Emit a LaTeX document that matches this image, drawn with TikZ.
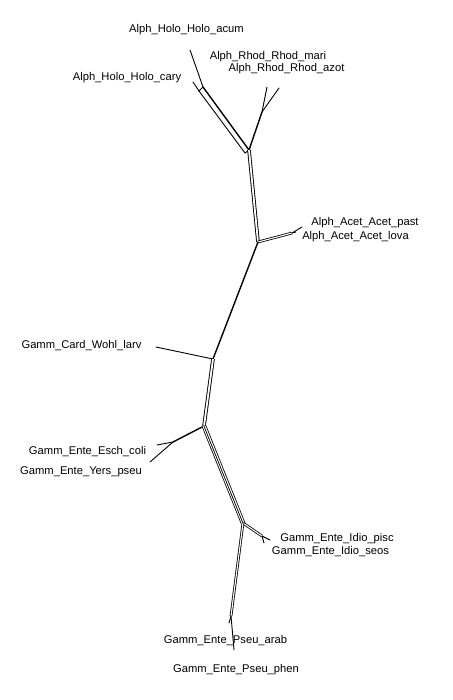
\documentclass[tikz,border=0pt]{standalone}
\usepackage{fontspec}
\setmainfont{Liberation Sans}
\usetikzlibrary{calc}
\begin{document}
\begin{tikzpicture}[x=1pt,y=-1pt,
  edge/.style={line width=0.9pt, line cap=round},
  heavy/.style={line width=1.4pt, line cap=round},
  dbl/.style={double, double distance=1.8pt, line width=0.9pt},
  dblthin/.style={double, double distance=1.1pt, line width=0.8pt},
  lbl/.style={font=\fontsize{11.2}{13}\selectfont, inner sep=0pt, anchor=center}]
\fill[white] (0,0) rectangle (452,700);
\useasboundingbox (0,0) rectangle (452,700);
% junctions and tips
\coordinate (hA) at (190,50);
\coordinate (hC) at (193,82);
\coordinate (h1) at (203,87);
\coordinate (h2) at (199,91);
\coordinate (r0) at (249,150);
\coordinate (r0b) at (245,153);
\coordinate (r1) at (262,112);
\coordinate (rM) at (267,87);
\coordinate (rZ) at (279,88);
\coordinate (a0) at (258,242);
\coordinate (a1) at (292,233);
\coordinate (aP) at (302,227);
\coordinate (aL) at (296,232);
\coordinate (c0) at (213,359);
\coordinate (cW) at (156,347);
\coordinate (e0) at (204,426);
\coordinate (e1) at (173,442);
\coordinate (eE) at (157,445);
\coordinate (eY) at (150,462);
\coordinate (i0) at (243,523);
\coordinate (i1) at (262,536);
\coordinate (iP) at (270,540);
\coordinate (iS) at (264,543);
\coordinate (p1) at (231,616);
\coordinate (pA) at (229,623);
\coordinate (pP) at (234,650);
% edges
\draw[edge] (hA) -- (h1);
\draw[edge] (hC) -- (h2);
\draw[edge] (h1) -- (h2);
\draw[heavy] (h1) -- (r0);
\draw[edge] (h2) -- (r0b);
\draw[edge] (r0b) -- (r0);
\draw[heavy] (r0) -- (r1);
\draw[edge] (r1) -- (rM);
\draw[edge] (r1) -- (rZ);
\draw[dbl] (r0) -- (a0);
\draw[dblthin] (a0) -- (a1);
\draw[edge] (a1) -- (aP);
\draw[edge] (a1) -- (aL);
\draw[heavy] (a0) -- (c0);
\draw[edge] (c0) -- (cW);
\draw[dbl] (c0) -- (e0);
\draw[heavy] (e0) -- (e1);
\draw[edge] (e1) -- (eE);
\draw[edge] (e1) -- (eY);
\draw[dblthin] ($(e0)+(-1,0)$) -- ($(i0)+(-1,0)$);
\draw[dblthin] ($(e0)+(1,0)$) -- ($(i0)+(1,0)$);
\draw[dblthin] (i0) -- (i1);
\draw[edge] (i1) -- (iP);
\draw[edge] (i1) -- (iS);
\draw[dblthin] (i0) -- (p1);
\draw[edge] (p1) -- (pA);
\draw[edge] (p1) -- (pP);
% labels
\node[lbl] (Lacum) at (186.5,30) {Alph\_Holo\_Holo\_acum};
\node[lbl] (Lmari) at (268,57) {Alph\_Rhod\_Rhod\_mari};
\node[lbl] (Lazot) at (286.5,69) {Alph\_Rhod\_Rhod\_azot};
\node[lbl] (Lcary) at (127,78) {Alph\_Holo\_Holo\_cary};
\node[lbl] (Lpast) at (365,223) {Alph\_Acet\_Acet\_past};
\node[lbl] (Llova) at (355.5,237) {Alph\_Acet\_Acet\_lova};
\node[lbl] (Lwohl) at (81.5,346) {Gamm\_Card\_Wohl\_larv};
\node[lbl] (Lesch) at (87.5,452) {Gamm\_Ente\_Esch\_coli};
\node[lbl] (Lyers) at (81,472) {Gamm\_Ente\_Yers\_pseu};
\node[lbl] (Lpisc) at (337,539) {Gamm\_Ente\_Idio\_pisc};
\node[lbl] (Lseos) at (330.5,552) {Gamm\_Ente\_Idio\_seos};
\node[lbl] (Larab) at (225.5,641) {Gamm\_Ente\_Pseu\_arab};
\node[lbl] (Lphen) at (236,670) {Gamm\_Ente\_Pseu\_phen};
\end{tikzpicture}
\end{document}
